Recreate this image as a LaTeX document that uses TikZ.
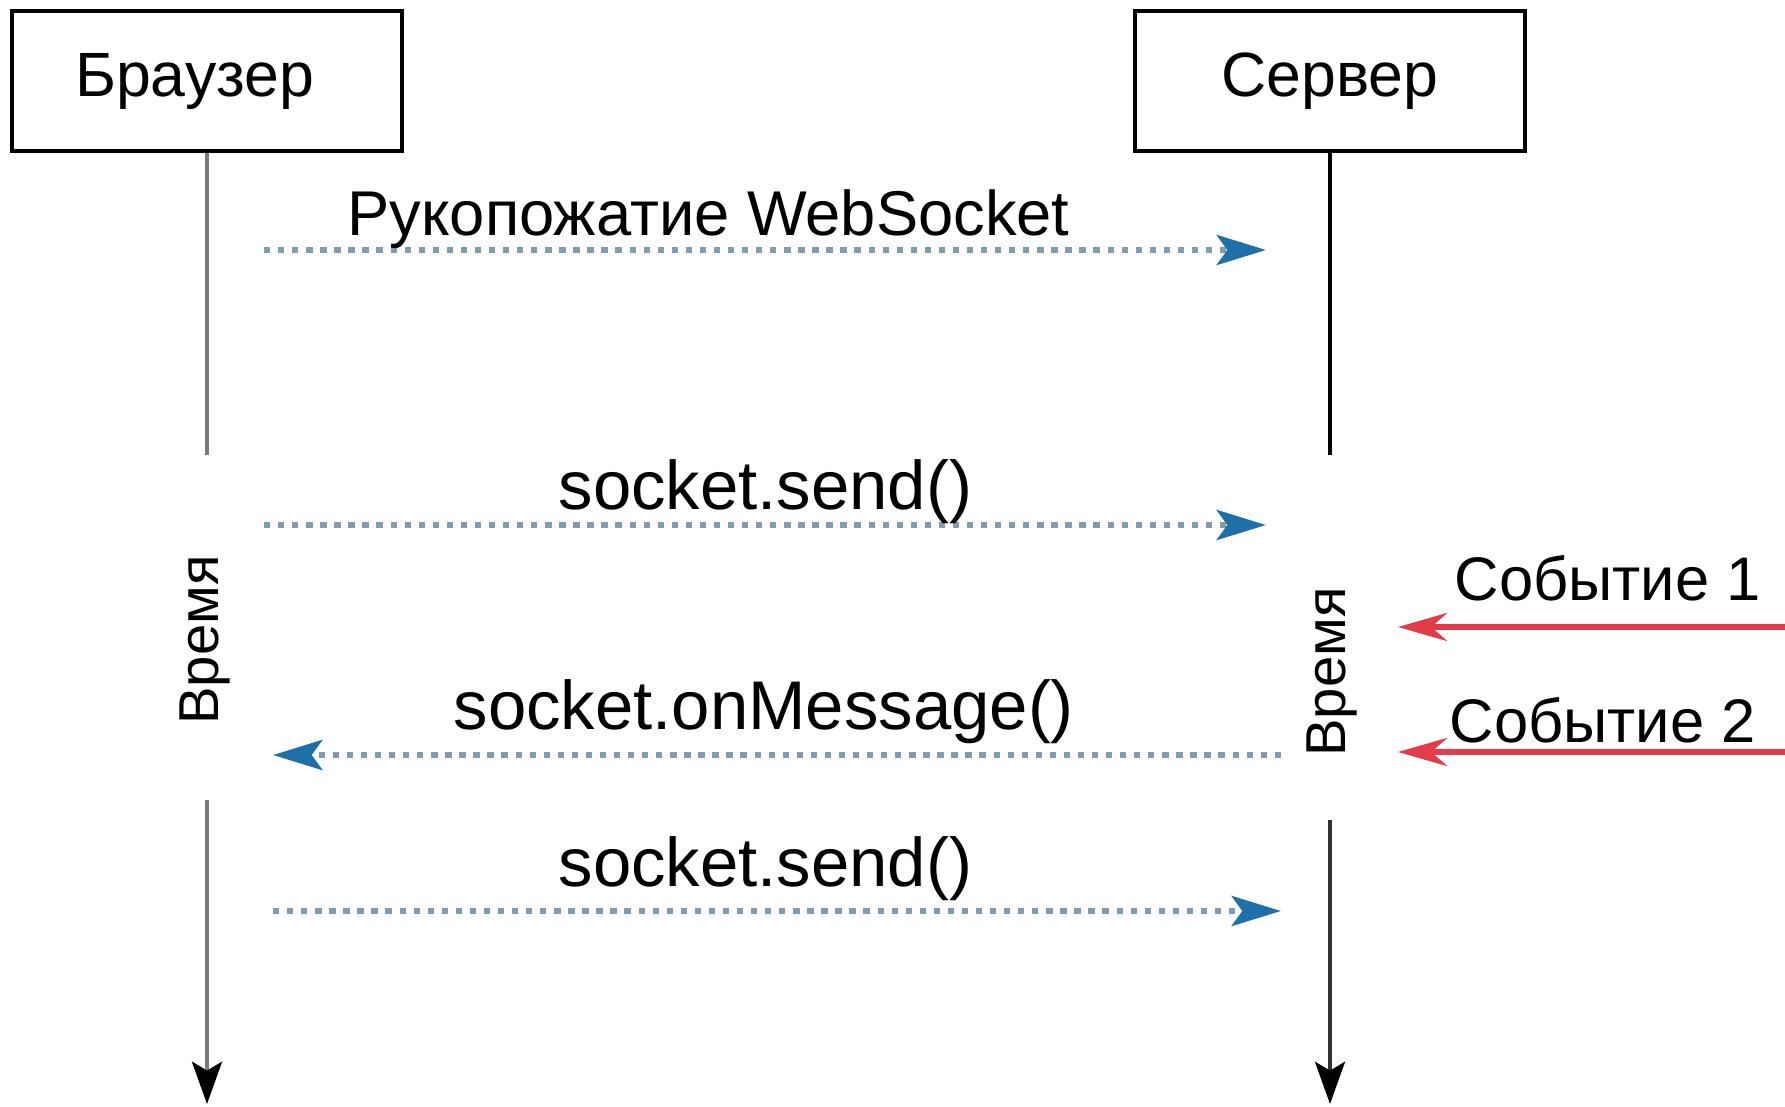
\documentclass[tikz,border=0pt]{standalone}
\usepackage{fontspec}
\setmainfont{Liberation Sans}
\usetikzlibrary{arrows.meta, positioning, calc}
\definecolor{msgblue}{HTML}{1F6FA8}
\definecolor{dotgray}{HTML}{809CAF}
\definecolor{evred}{HTML}{E23B4A}
\definecolor{lifegray}{HTML}{7A7A7A}

\begin{document}
\begin{tikzpicture}[x=1cm, y=-1cm,
  lifebox/.style={draw=black, line width=1pt, minimum width=3.9cm, minimum height=1.4cm,
    inner sep=0pt, font=\fontsize{17.8}{21}\selectfont},
  lifeline/.style={line width=1.3pt},
  msg/.style={dotgray, line width=1.8pt, dash pattern=on 1.8pt off 2.2pt,
    -{Stealth[length=14pt, width=8.5pt, inset=3pt, color=msgblue]}},
  evt/.style={evred, line width=1.5pt, -{Stealth[length=14pt, width=8pt]}},
  msgtext/.style={anchor=base west, inner sep=0pt, font=\fontsize{19.6}{23}\selectfont},
  evtext/.style={anchor=base west, inner sep=0pt, font=\fontsize{17.5}{21}\selectfont},
  timelabel/.style={rotate=90, inner sep=0pt, font=\fontsize{16}{19}\selectfont}]

% Canvas, same proportions as the reference
\useasboundingbox (0,0) rectangle (17.85,11.06);

% Participants
\node[lifebox] (browser) at (2.07,0.81) {Браузер\hspace*{0.25cm}};
\node[lifebox] (server) at (13.30,0.81) {Сервер};

% Lifelines, broken where the time labels sit
\coordinate (btop) at (2.07,4.55);
\coordinate (bbot) at (2.07,8.00);
\coordinate (bend) at (2.07,11.04);
\coordinate (stop) at (13.30,4.55);
\coordinate (sbot) at (13.30,8.20);
\coordinate (send) at (13.30,11.04);
\draw[lifeline, lifegray] (browser.south) -- (btop);
\draw[lifeline, lifegray, -{Stealth[length=12pt, width=8.5pt, inset=2.5pt, color=black]}] (bbot) -- (bend);
\draw[lifeline, black] (server.south) -- (stop);
\draw[lifeline, black!80, -{Stealth[length=12pt, width=8.5pt, inset=2.5pt, color=black]}] (sbot) -- (send);

\node[timelabel] (btime) at (2.05,6.40) {Время};
\node[timelabel] (stime) at (13.32,6.72) {Время};

% Messages between browser and server
\coordinate (m1a) at (2.64,2.50);  \coordinate (m1b) at (12.66,2.50);
\coordinate (m2a) at (2.64,5.25);  \coordinate (m2b) at (12.66,5.25);
\coordinate (m3a) at (12.81,7.55); \coordinate (m3b) at (2.73,7.55);
\coordinate (m4a) at (2.73,9.11);  \coordinate (m4b) at (12.81,9.11);
\draw[msg] (m1a) -- (m1b);
\draw[msg] (m2a) -- (m2b);
\draw[msg] (m3a) -- (m3b);
\draw[msg] (m4a) -- (m4b);

\node[evtext, font=\fontsize{18}{21}\selectfont] (hslabel) at (3.47,2.36) {Рукопожатие WebSocket};
\node[msgtext] (send1) at (5.58,5.09) {socket.send()};
\node[msgtext] (onmsg) at (4.53,7.29) {socket.onMessage()};
\node[msgtext] (send2) at (5.58,8.86) {socket.send()};

% Server-side events coming in from the right
\coordinate (e1a) at (17.90,6.27); \coordinate (e1b) at (13.98,6.27);
\coordinate (e2a) at (17.90,7.52); \coordinate (e2b) at (13.98,7.52);
\draw[evt] (e1a) -- (e1b);
\draw[evt] (e2a) -- (e2b);
\node[evtext] (ev1) at (14.54,6.00) {Событие 1};
\node[evtext] (ev2) at (14.49,7.42) {Событие 2};

\end{tikzpicture}
\end{document}
